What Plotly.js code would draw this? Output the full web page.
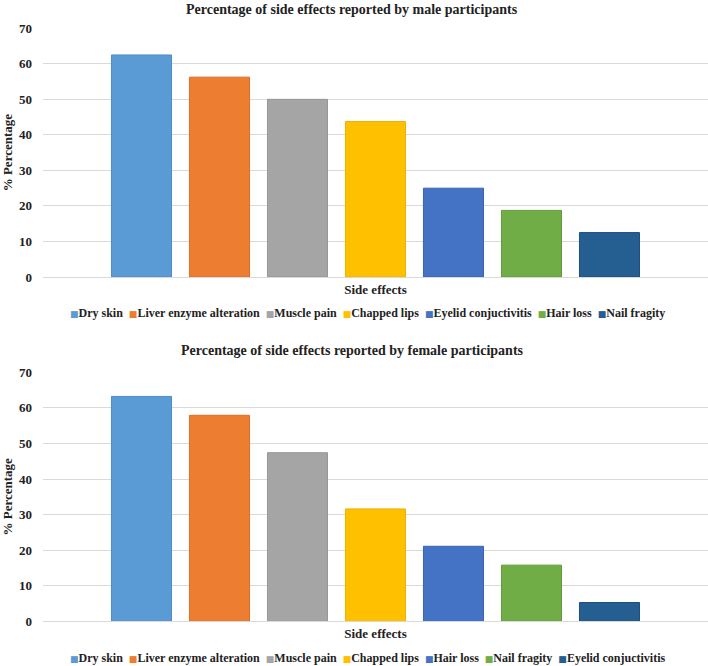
<!DOCTYPE html>
<html>
<head>
<meta charset="utf-8">
<script src="https://cdn.plot.ly/plotly-3.0.1.min.js"></script>
<style>html,body{margin:0;padding:0;background:#fff;}</style>
</head>
<body>
<div id="chart" style="width:708px;height:666px;"></div>
<script>
const category = ["Side effects"];
const maleLabels = ["Dry skin", "Liver enzyme alteration", "Muscle pain", "Chapped lips", "Eyelid conjuctivitis", "Hair loss", "Nail fragity"];
const maleValues = [62.5, 56.25, 50, 43.75, 25, 18.75, 12.5];
const femaleLabels = ["Dry skin", "Liver enzyme alteration", "Muscle pain", "Chapped lips", "Hair loss", "Nail fragity", "Eyelid conjuctivitis"];
const femaleValues = [63.2, 57.9, 47.4, 31.6, 21.1, 15.8, 5.3];
const colors = ["#5B9BD5", "#ED7D31", "#A5A5A5", "#FFC000", "#4472C4", "#70AD47", "#255E91"];
const borders = ["#4F8CC6", "#DC6E24", "#979797", "#EDB100", "#3A64B0", "#629B3B", "#1F4E7A"];
const yTicks = [0, 10, 20, 30, 40, 50, 60, 70];

const FONT = "Liberation Serif";
const traces = [];
maleLabels.forEach((name, i) => {
  traces.push({
    type: "bar", x: category, y: [maleValues[i]], name: name,
    xaxis: "x", yaxis: "y",
    marker: {color: colors[i], line: {color: borders[i], width: 1}},
    showlegend: false
  });
});
femaleLabels.forEach((name, i) => {
  traces.push({
    type: "bar", x: category, y: [femaleValues[i]], name: name,
    xaxis: "x2", yaxis: "y2",
    marker: {color: colors[i], line: {color: borders[i], width: 1}},
    showlegend: false
  });
});

function legendText(labels) {
  return labels.map((n, i) =>
    `<span style="color:${colors[i]};font-size:9px;font-family:DejaVu Sans">&#9632;</span>${n}`).join("&nbsp;&nbsp;");
}

const yaxisBase = {
  range: [0, 70], tickvals: yTicks, ticktext: yTicks.map(String),
  showgrid: true, gridcolor: "#D9D9D9", gridwidth: 1,
  zeroline: false, showline: false, ticks: "",
  ticklabelstandoff: 10,
  tickfont: {family: FONT, size: 13, color: "#222", weight: "bold"},
  title: {text: "% Percentage", font: {family: FONT, size: 13, color: "#222", weight: "bold"}, standoff: 6},
  automargin: false, fixedrange: true
};
const xaxisBase = {
  showgrid: false, zeroline: false, showline: true, linecolor: "#D9D9D9", linewidth: 1,
  ticks: "", tickfont: {family: FONT, size: 13, color: "#222", weight: "bold"},
  automargin: false, fixedrange: true
};

const layout = {
  width: 708, height: 666,
  margin: {l: 0, r: 0, t: 0, b: 0},
  paper_bgcolor: "#fff", plot_bgcolor: "#fff",
  barmode: "group", bargap: 0.179, bargroupgap: 0.23,
  font: {family: FONT, color: "#222"},
  xaxis: Object.assign({}, xaxisBase, {domain: [0.0607, 1], anchor: "y"}),
  yaxis: Object.assign({}, yaxisBase, {domain: [0.5841, 0.9575], anchor: "x"}),
  xaxis2: Object.assign({}, xaxisBase, {domain: [0.0607, 1], anchor: "y2"}),
  yaxis2: Object.assign({}, yaxisBase, {domain: [0.067, 0.4411], anchor: "x2"}),
  annotations: [
    {text: "Percentage of side effects reported by male participants", xref: "paper", yref: "paper",
     x: 352/708, y: 1 - 10/666, xanchor: "center", yanchor: "middle", showarrow: false,
     font: {family: FONT, size: 14, color: "#222", weight: "bold"}},
    {text: "Percentage of side effects reported by female participants", xref: "paper", yref: "paper",
     x: 352/708, y: 1 - 351/666, xanchor: "center", yanchor: "middle", showarrow: false,
     font: {family: FONT, size: 14, color: "#222", weight: "bold"}},
    {text: legendText(maleLabels), xref: "paper", yref: "paper",
     x: 367/708, y: 1 - 313/666, xanchor: "center", yanchor: "middle", showarrow: false,
     font: {family: FONT, size: 12, color: "#222", weight: "bold"}},
    {text: legendText(femaleLabels), xref: "paper", yref: "paper",
     x: 368/708, y: 1 - 658/666, xanchor: "center", yanchor: "middle", showarrow: false,
     font: {family: FONT, size: 12, color: "#222", weight: "bold"}}
  ]
};

Plotly.newPlot("chart", traces, layout, {staticPlot: true, displayModeBar: false});
</script>
</body>
</html>
